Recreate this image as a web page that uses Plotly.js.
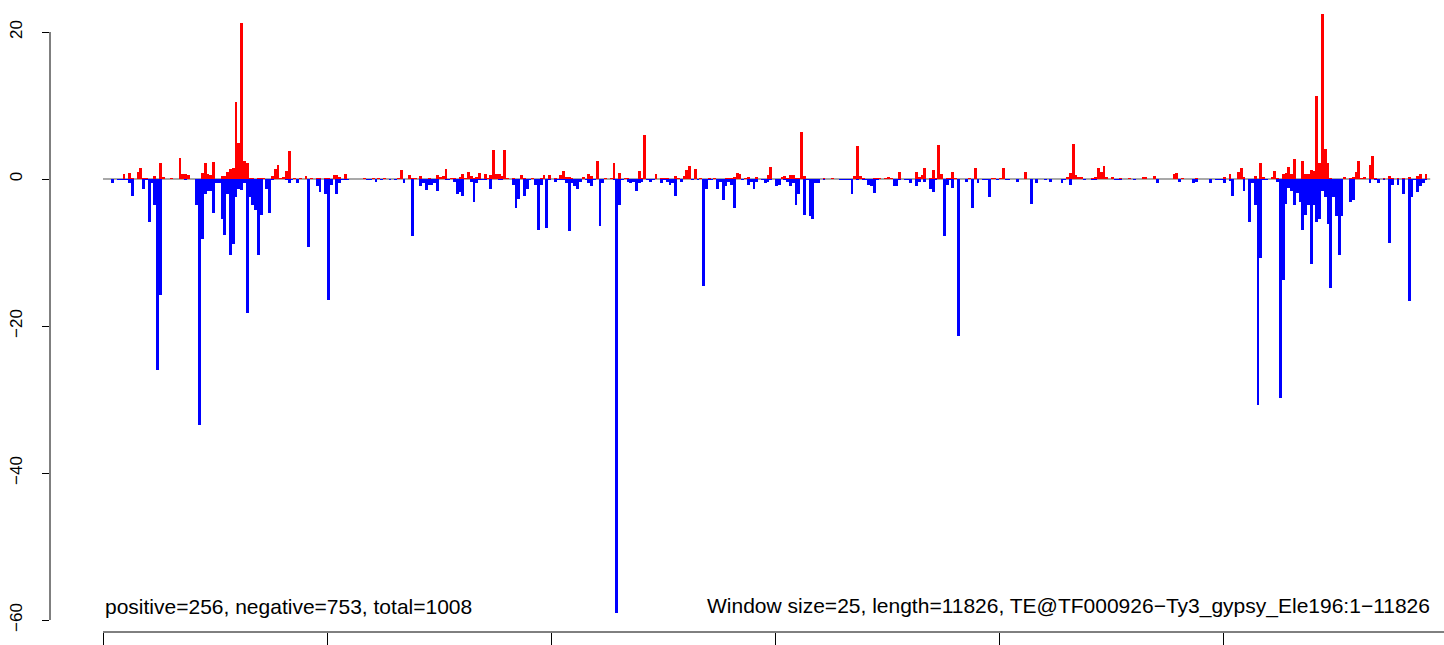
<!DOCTYPE html>
<html>
<head>
<meta charset="utf-8">
<script src="https://cdn.plot.ly/plotly-3.0.1.min.js"></script>
<style>html,body{margin:0;padding:0;background:#fff;}#chart{width:1444px;height:645px;}</style>
</head>
<body>
<div id="chart"></div>
<script>
// ---- data (window index, value); window size 25 bp ----
const windowSize = 25;
const seqLength = 11826;

const posWin = [7,9,10,12,13,14,15,18,20,21,24,27,28,29,30,35,36,37,38,
39,42,43,44,45,46,47,48,49,50,51,52,53,55,56,57,60,61,62,63,64,65,66,68,70,72,74,76,77,
79,80,82,83,84,86,93,96,98,100,105,106,109,110,111,113,116,
119,120,121,122,124,125,127,128,129,130,131,132,133,134,136,137,138,139,140,141,142,143,144,146,149,150,153,156,157,
159,161,163,164,165,166,167,171,173,174,176,179,181,182,184,186,187,191,192,193,197,
199,200,201,204,205,207,208,209,211,213,216,218,222,223,224,225,226,227,229,230,233,237,238,
242,243,244,245,246,247,248,249,250,257,260,268,269,270,271,275,276,277,
279,280,281,284,290,291,292,293,295,296,297,298,299,301,302,303,304,309,311,317,318,
320,321,329,344,345,346,347,348,349,353,354,355,356,357,
358,360,363,366,371,372,375,382,383,385,390,
400,402,405,406,407,411,413,414,417,418,419,421,422,423,424,425,428,429,430,431,432,433,434,435,436,437,438,
443,445,446,447,448,449,450,452,453,454,456,457,459,460,462,464,466,469,470,472];
const posVal = [0.7,0.8,0.15,0.95,1.5,0.15,0.15,0.4,2.2,0.3,0.15,2.9,0.7,0.7,0.55,0.8,2.2,0.7,0.5,
2.3,0.4,0.4,0.95,1.36,1.5,10.5,4.9,21.2,2.45,2.2,0.15,0.15,0.1,0.1,0.1,0.4,1.36,1.9,0.1,0.3,1.1,3.8,0.15,0.15,0.4,0.15,0.15,0.15,
0.15,0.15,0.55,0.55,0.3,0.7,0.15,0.15,0.15,0.15,0.1,1.2,0.55,0.15,0.15,0.4,0.15,
0.55,0.3,0.4,1.36,0.15,0.15,0.3,0.7,0.15,0.95,0.4,0.15,0.3,0.8,0.7,0.15,0.55,3.95,0.7,0.7,0.4,3.95,0.15,0.15,0.55,0.15,0.15,0.15,0.55,
0.55,0.15,0.55,1.1,0.3,0.3,0.15,0.3,0.7,0.4,2.45,0.1,0.15,2.2,0.8,0.15,0.15,1.1,0.15,6.0,0.7,
0.15,0.15,0.15,0.4,0.15,0.4,1.2,1.8,1.36,0.15,0.1,0.15,0.15,0.1,0.15,0.3,0.8,0.7,0.1,0.3,0.3,0.55,1.6,
0.3,0.4,0.15,0.55,0.55,0.15,0.15,6.4,0.4,0.15,0.15,0.4,4.5,0.4,0.15,0.15,0.15,0.15,
0.15,0.3,0.15,0.95,0.95,0.3,0.55,1.5,0.15,1.2,0.15,4.6,0.7,0.15,0.15,0.95,0.15,0.15,1.5,0.15,0.15,
0.1,1.5,0.95,0.3,0.8,4.75,0.55,0.3,0.3,0.15,0.3,1.5,0.95,1.8,
0.3,0.3,0.15,0.15,0.3,0.3,0.4,0.7,0.8,0.15,0.15,
0.3,0.7,0.95,1.5,0.3,0.4,2.2,0.3,0.3,1.1,0.15,0.7,0.8,1.6,0.7,2.7,2.45,0.7,0.7,1.2,1.1,11.3,2.2,22.4,4.1,2.2,0.15,
0.3,0.15,0.3,0.95,2.45,0.15,0.3,1.9,3.1,0.15,0.05,0.15,0.4,0.15,0.15,0.15,0.3,0.4,0.7,0.7];

const negWin = [3,5,6,7,8,9,10,14,15,16,17,18,19,20,29,33,34,35,36,37,38,
39,40,41,42,43,44,45,46,47,48,49,50,51,52,53,54,55,56,58,59,60,65,66,67,69,73,76,77,
79,80,81,83,84,85,86,87,94,95,97,99,102,104,107,110,113,114,115,116,117,118,
119,122,123,125,126,127,128,131,132,133,134,135,136,138,141,142,146,147,148,150,151,152,154,155,156,158,
159,161,162,163,164,165,166,167,168,169,170,172,173,174,175,177,178,182,183,184,185,187,188,189,190,191,192,194,195,196,
199,200,201,202,203,204,206,210,212,214,215,216,217,219,220,221,222,223,224,225,228,230,231,232,233,235,236,237,238,
240,241,243,244,245,246,247,248,250,251,252,253,254,255,257,263,264,265,266,267,269,271,272,273,274,275,276,
282,283,284,286,287,288,290,291,293,295,296,297,300,301,302,303,305,308,310,312,314,315,316,
319,322,323,326,331,333,336,338,342,343,345,350,353,354,
361,362,363,368,376,384,389,390,395,397,398,
399,400,402,403,407,409,410,411,412,413,414,415,419,420,421,422,423,424,425,426,427,428,429,430,431,432,433,434,435,436,437,438,
439,440,441,442,445,446,452,454,455,457,459,460,462,464,466,467,468,469,470,471,472];
const negVal = [-0.5,-0.2,-0.2,-0.2,-0.2,-0.5,-2.3,-1.3,-0.2,-5.9,-0.5,-3.6,-26,-15.8,-0.1,-3.6,-33.5,-8.1,-2.0,-1.6,-1.6,
-4.6,-0.5,-0.5,-5.5,-7.6,-2.1,-10.3,-8.8,-2.5,-1.3,-1.45,-0.5,-18.2,-2.4,-3.5,-4.2,-10.4,-4.85,-1.3,-4.6,-0.2,-0.2,-0.5,-0.2,-0.6,-9.3,-0.9,-1.7,
-2.0,-16.5,-0.8,-2.1,-0.6,-0.2,-0.1,-0.1,-0.1,-0.1,-0.35,-0.2,-0.1,-0.2,-0.5,-7.7,-1.0,-0.5,-1.45,-0.8,-0.8,-0.6,
-1.6,-0.2,-0.2,-0.35,-2.0,-1.7,-2.3,-0.35,-3.1,-0.6,-0.2,-0.1,-0.1,-1.3,-0.2,-0.2,-0.8,-3.9,-2.7,-2.3,-1.3,-0.2,-0.8,-6.9,-0.8,-6.6,
-0.2,-0.35,-0.2,-0.2,-0.2,-0.5,-7.1,-0.5,-1.0,-1.3,-0.35,-0.2,-0.5,-1.0,-0.2,-6.4,-0.5,-0.2,-59,-3.5,-0.2,-0.35,-0.6,-0.35,-1.6,-0.6,-0.35,-0.2,-0.35,-0.2,
-0.5,-0.2,-0.35,-0.8,-0.6,-2.3,-0.35,-0.2,-0.2,-14.6,-1.3,-0.2,-0.2,-1.3,-0.35,-2.8,-0.9,-0.35,-0.8,-3.9,-0.2,-0.8,-0.35,-1.3,-0.35,-0.2,-0.6,-0.35,-0.2,
-0.9,-0.8,-0.2,-0.35,-0.9,-0.5,-3.5,-2.1,-4.85,-0.2,-5.0,-5.4,-0.6,-0.6,-0.1,-0.1,-0.1,-0.1,-0.1,-2.0,-0.2,-0.2,-0.2,-0.8,-0.9,-1.9,-0.2,
-0.9,-0.9,-0.2,-0.1,-0.1,-0.5,-1.0,-0.35,-0.35,-1.3,-1.7,-0.2,-7.7,-0.8,-0.2,-1.2,-21.4,-0.35,-4.0,-0.5,-0.2,-0.2,-2.5,
-0.1,-0.1,-0.1,-0.35,-3.4,-0.6,-0.1,-0.35,-0.5,-0.2,-0.8,-0.2,-0.1,-0.1,
-0.1,-0.1,-0.2,-0.2,-0.6,-0.35,-0.5,-0.35,-0.5,-0.2,-0.2,
-0.2,-0.5,-0.3,-2.3,-1.6,-5.9,-0.6,-3.5,-30.8,-10.7,-0.2,-0.2,-0.35,-29.8,-13.7,-3.4,-1.2,-1.6,-3.6,-1.9,-3.1,-6.9,-4.85,-3.5,-11.5,-3.5,-5.8,-5.5,-1.6,-2.5,-6.1,-14.8,
-2.4,-5.1,-10.4,-5.0,-3.1,-2.8,-0.6,-0.2,-0.6,-0.1,-8.7,-0.8,-0.8,-2.0,-16.6,-2.4,-0.2,-1.7,-0.9,-0.6,-0.2];

const yTicks = [-60, -40, -20, 0, 20];
const xTicks = [0, 2000, 4000, 6000, 8000, 10000, 12000];
const leftNote = "positive=256, negative=753, total=1008";
const rightNote = "Window size=25, length=11826, TE@TF000926\u2212Ty3_gypsy_Ele196:1\u221211826";

// ---- drawing ----
const toX = w => w.map(i => i * windowSize + windowSize / 2);
const nWin = Math.ceil(seqLength / windowSize);

const traces = [
  {type: 'bar', x: toX(posWin), y: posVal, width: windowSize,
   marker: {color: '#ff0000', line: {width: 0}}, hoverinfo: 'x+y'},
  {type: 'bar', x: toX(negWin), y: negVal, width: windowSize,
   marker: {color: '#0000ff', line: {width: 0}}, hoverinfo: 'x+y'}
];

const pxPerBp = 0.112, pxPerUnit = 7.35;
const plotW = 1394, plotH = 632;
const x0 = -53 / pxPerBp;
const x1 = x0 + plotW / pxPerBp;
const yTop = 179 / pxPerUnit;
const yBot = -(plotH - 179) / pxPerUnit;

const font = 'Liberation Sans, Arial, Helvetica, sans-serif';

const layout = {
  width: 1444, height: 645,
  margin: {l: 50, r: 0, t: 0, b: 13, pad: 0},
  paper_bgcolor: '#ffffff', plot_bgcolor: '#ffffff',
  showlegend: false,
  barmode: 'overlay', bargap: 0,
  font: {family: font, color: '#000000'},
  xaxis: {range: [x0, x1], showgrid: false, zeroline: false, showline: false,
          tickmode: 'array', tickvals: xTicks, ticktext: xTicks.map(String),
          ticks: 'outside', ticklen: 14, tickwidth: 1, tickcolor: '#000000',
          showticklabels: false},
  yaxis: {range: [yBot, yTop], showgrid: false, zeroline: false, showline: false,
          tickmode: 'array', tickvals: yTicks, ticktext: yTicks.map(v => v < 0 ? '\u2212' + Math.abs(v) : String(v)),
          ticks: 'outside', ticklen: 7, tickwidth: 1, tickcolor: '#000000',
          tickangle: -90, tickfont: {family: font, size: 17, color: '#000000'},
          ticklabelstandoff: 13},
  shapes: [
    {type: 'line', layer: 'below', xref: 'x', yref: 'y', x0: 0, x1: nWin * windowSize, y0: 0, y1: 0,
     line: {color: '#8c8c8c', width: 1.5}},
    {type: 'line', xref: 'paper', yref: 'y', x0: 0, x1: 0, y0: yTicks[0], y1: yTicks[yTicks.length - 1],
     line: {color: '#000000', width: 1}},
    {type: 'line', xref: 'x', yref: 'paper', x0: 0, x1: x1, y0: 0, y1: 0,
     line: {color: '#000000', width: 1}}
  ],
  annotations: [
    {text: leftNote, x: 0, y: -58.1, xref: 'x', yref: 'y', xanchor: 'left', yanchor: 'middle',
     showarrow: false, font: {family: font, size: 21, color: '#000000'}},
    {text: rightNote, x: 11866, y: -58.1, xref: 'x', yref: 'y', xanchor: 'right', yanchor: 'middle',
     showarrow: false, font: {family: font, size: 21, color: '#000000'}}
  ]
};

Plotly.newPlot('chart', traces, layout, {staticPlot: true, displayModeBar: false});
</script>
</body>
</html>
